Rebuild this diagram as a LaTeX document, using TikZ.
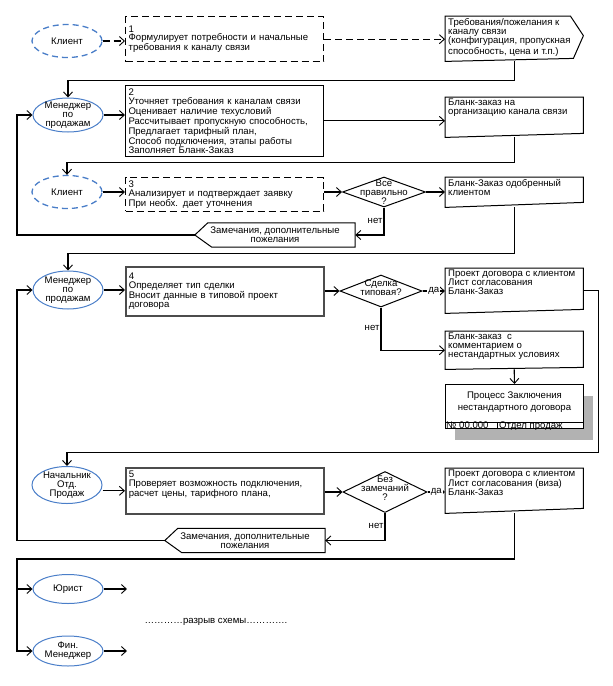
\documentclass[tikz,border=0pt]{standalone}
\usepackage{fontspec}
\setmainfont{Liberation Sans}
\usepackage{tikz}
\usetikzlibrary{shapes.geometric,arrows.meta,shadows}

\definecolor{roleblue}{RGB}{74,126,200}
\newcommand{\toptext}[3]{\begin{minipage}[c][#1][t]{#2}#3\end{minipage}}
\newcommand{\docshape}[2]{\draw[docline] (#1.south west) -- (#1.north west) -- (#1.north east) -- ([yshift=#2]#1.south east) -- cycle;}
\newcommand{\remshape}[1]{\draw[docline] ([xshift=13pt]#1.north west) -- (#1.north east) -- (#1.south east) -- ([xshift=17pt]#1.south west) -- (#1.west) -- cycle;}

\begin{document}
\begin{tikzpicture}[
        x=1pt, y=-1pt,
        font=\fontsize{9.6}{8.8}\selectfont,
        role/.style={draw=roleblue, ellipse, line width=1pt, minimum width=70pt, inner xsep=0pt, inner ysep=-2pt, align=center},
        client/.style={role, line width=1.3pt, dash pattern=on 6pt off 4pt},
        task/.style={draw, rectangle, anchor=north west, line width=1pt, minimum width=198pt, inner sep=3pt, text width=192pt, align=left},
        taskdash/.style={task, line width=1.4pt, dash pattern=on 7pt off 4pt},
        taskgray/.style={task, draw=black!70, line width=1.6pt},
        doc/.style={rectangle, anchor=north west, inner xsep=3pt, inner ysep=2pt},
        docline/.style={draw, line width=1pt},
        decision/.style={draw, diamond, line width=1pt, inner sep=0pt},
        remark/.style={rectangle, minimum width=160pt, minimum height=24pt, inner sep=0pt, align=center},
        flow/.style={-{Straight Barb[length=5pt,width=9pt,line width=0.9pt]}, line width=1.1pt},
        flowdash/.style={flow, dash pattern=on 7pt off 4pt},
        yesno/.style={fill=white, inner sep=1pt},
        nolabel/.style={left, inner sep=1pt}
    ]
    \useasboundingbox (0,0) rectangle (613,686);
    \coordinate (lft) at (17,0);

    \node[client, minimum height=33pt] (c1) at (67,41) {Клиент};
    \node[taskdash, minimum height=45pt] (t1) at (125,16) {1\\Формулирует потребности и начальные\\требования к каналу связи};
    \node[doc] (d1) at (445,16) {\toptext{41pt}{132pt}{Требования/пожелания к\\каналу связи\\(конфигурация, пропускная\\способность, цена и т.п.)}};
    \draw[docline] (d1.south west) -- (d1.north west) -- ([xshift=-13pt]d1.north east) -- ([yshift=3pt]d1.east) -- ([xshift=-10pt,yshift=3pt]d1.south east) -- cycle;

    \node[role, minimum height=34pt] (m1) at (68,115) {Менеджер\\по\\продажам};
    \node[task, minimum height=65pt] (t2) at (125,85) {2\\Уточняет требования к каналам связи\\Оценивает наличие техусловий\\Рассчитывает пропускную способность,\\Предлагает тарифный план,\\Способ подключения, этапы работы\\Заполняет Бланк-Заказ};
    \node[doc] (d2) at (445,97) {\toptext{36pt}{132pt}{Бланк-заказ на\\организацию канала связи}};
    \docshape{d2}{4pt}

    \node[client, minimum height=33pt] (c2) at (67,192) {Клиент};
    \node[taskdash, minimum height=32pt] (t3) at (125,177) {3\\Анализирует и подтверждает заявку\\При необх. дает уточнения};
    \node[decision, minimum width=83pt, minimum height=30pt, label={[name=q1t, align=center]center:{Все\\правильно\\?}}] (q1) at (384,192) {};
    \node[doc] (d3) at (445,177) {\toptext{26pt}{132pt}{Бланк-Заказ одобренный\\клиентом}};
    \docshape{d3}{5pt}
    \node[remark] (r1) at (275,235) {Замечания, дополнительные\\пожелания};
    \remshape{r1}

    \node[role, minimum height=38pt] (m2) at (68,290) {Менеджер\\по\\продажам};
    \node[taskgray, minimum height=49pt] (t4) at (125,266) {4\\Определяет тип сделки\\Вносит данные в типовой проект\\договора};
    \node[decision, minimum width=82pt, minimum height=32pt, label={[name=q2t, align=center, yshift=3pt]center:{Сделка\\типовая?}}] (q2) at (381,291) {};
    \node[doc] (d4) at (445,268) {\toptext{41pt}{132pt}{Проект договора с клиентом\\Лист согласования\\Бланк-Заказ}};
    \docshape{d4}{4pt}
    \node[doc] (d5) at (445,331) {\toptext{34pt}{132pt}{Бланк-заказ\ \ с\\комментарием о\\нестандартных условиях}};
    \docshape{d5}{2pt}
    \node[draw, rectangle, anchor=north west, line width=1pt, fill=white, inner xsep=3pt, inner ysep=2pt,
        drop shadow={shadow xshift=9pt, shadow yshift=-11pt, fill=black!30, opacity=1}] (pr) at (445,384)
        {\toptext{40pt}{132pt}{\centering\vspace*{5pt}Процесс Заключения\\[3pt]нестандартного договора}};
    \draw[line width=1pt] ([yshift=7pt]pr.south west) -- ([yshift=7pt]pr.south east);
    \draw[line width=1pt] ([xshift=52pt]pr.south west) -- ([xshift=52pt,yshift=7pt]pr.south west);
    \node[anchor=base west, inner sep=0pt] (prno) at ([xshift=1pt,yshift=1pt]pr.south west) {№ 00.000};
    \node[anchor=base west, inner sep=0pt] (prdep) at ([xshift=54pt,yshift=1pt]pr.south west) {Отдел продаж};

    \node[role, minimum height=37pt] (n1) at (67,485) {Начальник\\Отд.\\Продаж};
    \node[taskgray, minimum height=46pt] (t5) at (125,467) {\toptext{40pt}{192pt}{5\\Проверяет возможность подключения,\\расчет цены, тарифного плана,}};
    \node[decision, minimum width=84pt, minimum height=41pt, label={[name=q3t, align=center, yshift=4pt]center:{Без\\замечаний\\?}}] (q3) at (385,492) {};
    \node[doc] (d6) at (445,468) {\toptext{41pt}{132pt}{Проект договора с клиентом\\Лист согласования (виза)\\Бланк-Заказ}};
    \docshape{d6}{5pt}
    \node[remark] (r2) at (245,540.5) {Замечания, дополнительные\\пожелания};
    \remshape{r2}

    \node[role, minimum height=29pt] (j1) at (68,589) {Юрист};
    \node[role, minimum height=30pt] (f1) at (68,651) {Фин.\\Менеджер};
    \coordinate (j1out) at (127,589);
    \coordinate (f1out) at (127,651);
    \coordinate (jn) at (17,559);
    \node (gap) at (216,622) {…………разрыв схемы………….};

    \draw[flowdash] (c1.east) -- (c1.east -| t1.west);
    \draw[flowdash] (t1.east) -- (t1.east -| d1.west);
    \draw[flow] (d1.south) -- ++(0,19) -| (m1.north);
    \draw[flow] (m1.east) -- (m1.east -| t2.west);
    \draw[flow] (t2.east) -- (t2.east -| d2.west);
    \draw[flow] (d2.south) -- ++(0,25) -| (c2.north);
    \draw[flow] (c2.east) -- (c2.east -| t3.west);
    \draw[flow] (q1.west -| t3.east) -- (q1.west);
    \draw[flow] (q1.east) -- (q1.east -| d3.west);
    \draw[flow] (q1.south) |- (r1.east) node[pos=0.24, nolabel] {нет};
    \draw[flow] (r1.west) -- (r1.west -| lft) |- (m1.west);
    \draw[flow] (d3.south) -- ++(0,46) -| (m2.north);
    \draw[flow] (m2.east) -- (m2.east -| t4.west);
    \draw[flow] (q2.west -| t4.east) -- (q2.west);
    \draw[flow] (q2.east) -- (q2.east -| d4.west) node[midway, yesno] {да};
    \draw[flow] (q2.south) |- (d5.west) node[pos=0.24, nolabel] {нет};
    \draw[flow] (d5.south) -- (pr.north);
    \draw[flow] (d4.east) -- ++(15,0) -- ++(0,161.5) -| (n1.north);
    \draw[flow] (r2.west) -- (r2.west -| lft) |- (m2.west);
    \draw[flow] (t5.west -| n1.east) -- (t5.west);
    \draw[flow] (q3.west -| t5.east) -- (q3.west);
    \draw[flow] (q3.east) -- (q3.east -| d6.west) node[midway, yesno] {да};
    \draw[flow] (q3.south) |- (r2.east) node[pos=0.24, nolabel] {нет};
    \draw[flow] (d6.south) |- (jn) |- (f1.west);
    \draw[flow] (jn) |- (j1.west);
    \draw[flow] (j1.east) -- (j1out);
    \draw[flow] (f1.east) -- (f1out);
\end{tikzpicture}
\end{document}
